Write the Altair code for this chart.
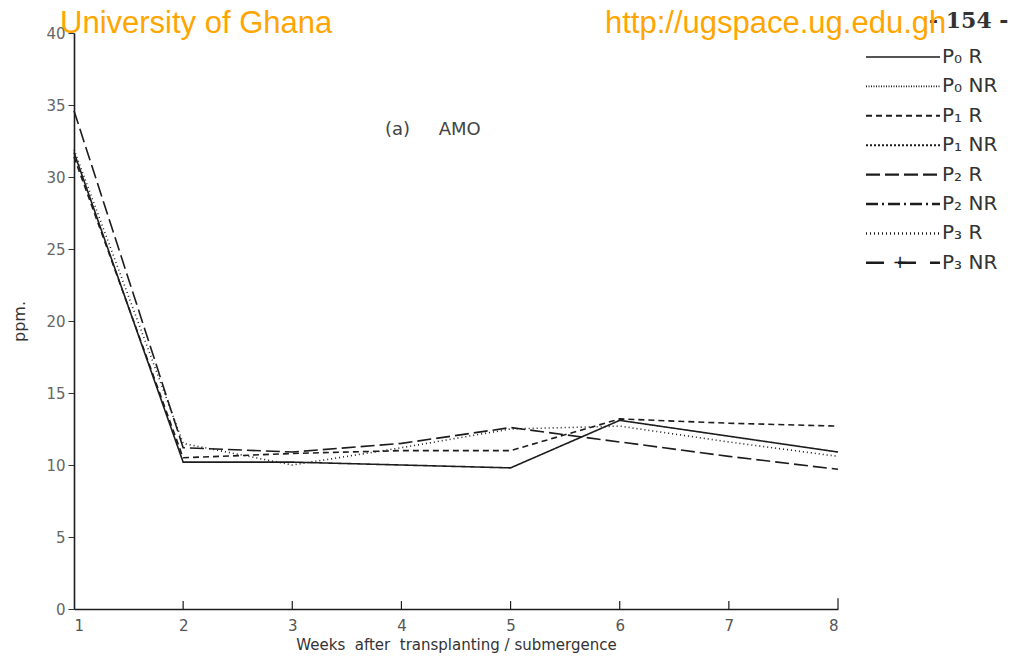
import altair as alt
import pandas as pd

# ---- data ----
weeks = [1, 2, 3, 4, 5, 6, 7, 8]
p0_r = [31.7, 10.2, 10.2, 10.0, 9.8, 13.1, 12.0, 10.9]
p1_r = [31.4, 10.5, 10.8, 11.0, 11.0, 13.2, 12.9, 12.7]
p2_r = [34.6, 11.2, 10.9, 11.5, 12.6, 11.6, 10.6, 9.7]
p3_r = [31.9, 11.5, 10.0, 11.2, 12.5, 12.7, 11.6, 10.6]

series_names = ["P₀ R", "P₀ NR", "P₁ R", "P₁ NR", "P₂ R", "P₂ NR", "P₃ R", "P₃ NR"]
dash_styles = [[1, 0], [1, 1.5], [6, 4], [2, 2], [14, 5], [12, 4, 2, 4], [1, 3], [18, 14]]
y_ticks = [0, 5, 10, 15, 20, 25, 30, 35, 40]

NB = "\u00a0"

# ---- tables ----
rows = []
for name, vals in [("P₀ R", p0_r), ("P₁ R", p1_r), ("P₂ R", p2_r), ("P₃ R", p3_r)]:
    for w, v in zip(weeks, vals):
        rows.append({"week": w, "ppm": v, "series": name})
df = pd.DataFrame(rows)

legend_df = pd.DataFrame({"series": series_names, "row": list(range(len(series_names)))})
tick_df = pd.DataFrame({"week": weeks[1:], "y0": [0] * 7, "y1": [0.55] * 6 + [0.75]})

W, H = 764, 576
ink = "#1c1c1c"

dash_scale = alt.Scale(domain=series_names, range=dash_styles)
width_scale = alt.Scale(domain=series_names, range=[1.6, 2.6, 1.6, 2.6, 1.6, 1.6, 1.6, 1.6])
xs = alt.Scale(domain=[1, 8], nice=False, zero=False)
ys = alt.Scale(domain=[0, 40], nice=False)

lines = alt.Chart(df).mark_line(color=ink, strokeWidth=1.6).encode(
    x=alt.X("week:Q", scale=xs,
            axis=alt.Axis(values=weeks, format="d", ticks=False, labelPadding=9,
                          labelFontSize=15, labelColor="#555", labelFont="DejaVu Sans",
                          title=NB.join(["Weeks", "", "after", "", "transplanting", "/", "submergence"]),
                          titleFontSize=15, titleFontWeight="normal", titleColor="#333",
                          titleFont="DejaVu Sans", titlePadding=4,
                          domainColor=ink, domainWidth=1.6, grid=False)),
    y=alt.Y("ppm:Q", scale=ys,
            axis=alt.Axis(values=y_ticks, tickSize=6, tickColor="#333", labelPadding=3,
                          labelFontSize=15, labelColor="#666", labelFont="DejaVu Sans",
                          title="ppm.", titleFontSize=16, titleFontWeight="normal",
                          titleColor="#333", titleFont="DejaVu Sans", titlePadding=18,
                          domainColor=ink, domainWidth=1.6, grid=False)),
    strokeDash=alt.StrokeDash("series:N", scale=dash_scale, legend=None),
    detail="series:N",
)

xticks = alt.Chart(tick_df).mark_rule(color=ink, strokeWidth=1.2).encode(
    x=alt.X("week:Q", scale=xs), y=alt.Y("y0:Q", scale=ys), y2="y1:Q"
)

leg_rules = alt.Chart(legend_df).transform_calculate(
    py="24 + 29.4 * datum.row"
).mark_rule(color=ink).encode(
    x=alt.value(792), x2=alt.value(866),
    y=alt.Y("py:Q", scale=None, axis=None),
    strokeDash=alt.StrokeDash("series:N", scale=dash_scale, legend=None),
    strokeWidth=alt.StrokeWidth("series:N", scale=width_scale, legend=None),
)
leg_plus = alt.Chart(legend_df).transform_filter(
    "datum.series == 'P₃ NR'"
).transform_calculate(
    py="24 + 29.4 * datum.row"
).mark_text(align="center", baseline="middle", fontSize=18, color=ink,
            font="DejaVu Sans").encode(
    x=alt.value(826), y=alt.Y("py:Q", scale=None, axis=None), text=alt.value("+")
)
leg_text = alt.Chart(legend_df).transform_calculate(
    py="24 + 29.4 * datum.row"
).mark_text(align="left", baseline="middle", fontSize=20, color="#333",
            font="DejaVu Sans").encode(
    x=alt.value(868), y=alt.Y("py:Q", scale=None, axis=None), text="series:N"
)

panel = alt.Chart(pd.DataFrame({"t": ["(a)" + NB * 5 + "AMO"]})).mark_text(
    align="left", baseline="alphabetic", fontSize=18, color="#444", font="DejaVu Sans"
).encode(x=alt.value(311), y=alt.value(102), text="t:N")

page = alt.Chart(pd.DataFrame({"t": ["- 154 -"]})).mark_text(
    align="left", baseline="alphabetic", fontSize=22, fontWeight="bold", color="#333",
    font="DejaVu Serif"
).encode(x=alt.value(855), y=alt.value(-5), text="t:N")

wm1 = alt.Chart(pd.DataFrame({"t": ["University of Ghana"]})).mark_text(
    align="left", baseline="alphabetic", fontSize=31, color="#FFA500", font="Liberation Sans"
).encode(x=alt.value(-14), y=alt.value(0), text="t:N")
wm2 = alt.Chart(pd.DataFrame({"t": ["http://ugspace.ug.edu.gh"]})).mark_text(
    align="left", baseline="alphabetic", fontSize=31, color="#FFA500", font="Liberation Sans"
).encode(x=alt.value(531), y=alt.value(0), text="t:N")

chart = alt.layer(
    lines, xticks, leg_rules, leg_plus, leg_text, panel, page, wm1, wm2
).properties(
    width=W, height=H,
    autosize=alt.AutoSizeParams(type="none"),
    padding={"left": 74, "top": 33, "right": 1034 - 74 - W, "bottom": 662 - 33 - H},
    background="white",
).configure_view(stroke=None)

chart.save("out.html", embed_options={"renderer": "svg", "actions": False})
